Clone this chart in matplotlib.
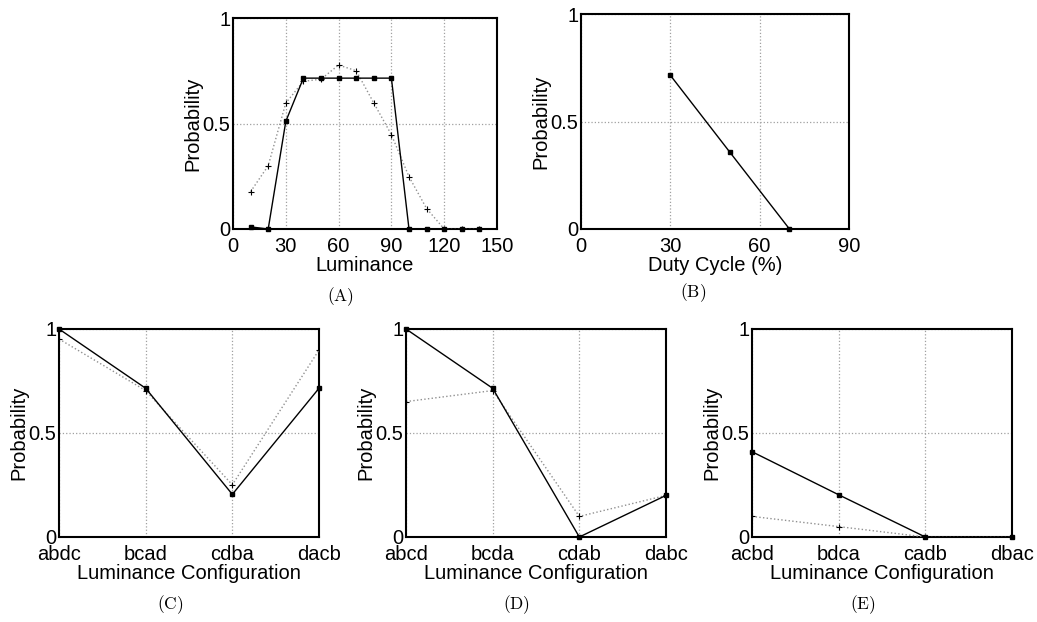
import matplotlib
matplotlib.use("Agg")
import matplotlib.pyplot as plt

plt.rcParams["font.family"] = ["Liberation Sans", "DejaVu Sans"]
plt.rcParams["mathtext.fontset"] = "cm"

# (A) luminance sweep
lumX = [10, 20, 30, 40, 50, 60, 70, 80, 90, 100, 110, 120, 130, 140]
lumSolid = [0.01, 0.0, 0.51, 0.715, 0.715, 0.715, 0.715, 0.715, 0.715, 0.0, 0.0, 0.0, 0.0, 0.0]
lumDotted = [0.177, 0.30, 0.597, 0.70, 0.71, 0.777, 0.75, 0.597, 0.447, 0.248, 0.097, 0.0, 0.0, 0.0]
lumTicks = [0, 30, 60, 90, 120, 150]

# (B) duty cycle
dutyX = [30, 50, 70]
dutySolid = [0.715, 0.357, 0.0]
dutyTicks = [0, 30, 60, 90]

# (C), (D), (E) luminance configurations
confC = ["abdc", "bcad", "cdba", "dacb"]
solidC = [1.0, 0.715, 0.205, 0.715]
dottedC = [0.952, 0.704, 0.251, 0.899]

confD = ["abcd", "bcda", "cdab", "dabc"]
solidD = [1.0, 0.715, 0.0, 0.2]
dottedD = [0.651, 0.704, 0.099, 0.2]

confE = ["acbd", "bdca", "cadb", "dbac"]
solidE = [0.41, 0.203, 0.0, 0.0]
dottedE = [0.099, 0.05, 0.0, 0.0]

W, H = 1037, 622
FS = 14.5


def makeAxes(fig, left, top, right, bottom):
    return fig.add_axes([left / W, 1 - bottom / H, (right - left) / W, (bottom - top) / H])


def styleAxes(ax, xlabel):
    ax.set_ylim(0, 1)
    ax.set_yticks([0, 0.5, 1])
    ax.set_yticklabels(["0", "0.5", "1"])
    ax.grid(True, linestyle=":", color="#a0a0a0", linewidth=0.9)
    ax.set_axisbelow(True)
    for sp in ax.spines.values():
        sp.set_linewidth(1.5)
    ax.tick_params(direction="in", length=0, labelsize=FS)
    ax.tick_params(axis="x", pad=5.5)
    ax.tick_params(axis="y", pad=2)
    ax.set_ylabel("Probability", fontsize=FS, labelpad=0)
    ax.set_xlabel(xlabel, fontsize=FS, labelpad=0)


def plotPair(ax, x, solid, dotted=None):
    if dotted is not None:
        ax.plot(x, dotted, linestyle=":", color="#909090", linewidth=1.0, zorder=3)
        ax.plot(x, dotted, linestyle="none", marker="+", color="black",
                markersize=4, markeredgewidth=0.8, zorder=4)
    ax.plot(x, solid, "-", color="black", linewidth=1.0, marker="s",
            markersize=2.3, clip_on=False, zorder=5)


fig = plt.figure(figsize=(W / 100, H / 100), dpi=100)

axA = makeAxes(fig, 233, 18, 497, 229)
plotPair(axA, lumX, lumSolid, lumDotted)
axA.set_xlim(0, 150)
axA.set_xticks(lumTicks)
styleAxes(axA, "Luminance")

axB = makeAxes(fig, 581, 14, 849, 229)
plotPair(axB, dutyX, dutySolid)
axB.set_xlim(0, 90)
axB.set_xticks(dutyTicks)
styleAxes(axB, "Duty Cycle (%)")

panels = [
    (59, 319, confC, solidC, dottedC),
    (406, 666, confD, solidD, dottedD),
    (752, 1012, confE, solidE, dottedE),
]
for left, right, conf, solid, dotted in panels:
    ax = makeAxes(fig, left, 329, right, 537)
    xs = list(range(len(conf)))
    plotPair(ax, xs, solid, dotted)
    ax.set_xlim(0, len(conf) - 1)
    ax.set_xticks(xs)
    ax.set_xticklabels(conf)
    styleAxes(ax, "Luminance Configuration")

captions = [("(A)", 340, 297), ("(B)", 693, 293), ("(C)", 170, 605),
            ("(D)", 517, 605), ("(E)", 863, 605)]
for txt, cx, cy in captions:
    fig.text(cx / W, 1 - cy / H, r"$\mathrm{" + txt + "}$", ha="center", va="center",
             fontsize=12.5)

fig.savefig("out.png", dpi=100)
